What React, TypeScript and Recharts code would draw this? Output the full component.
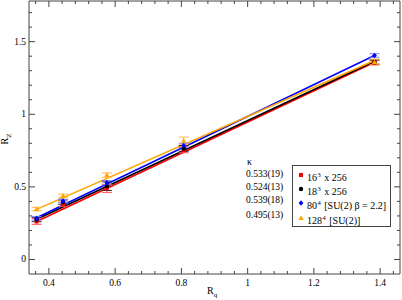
import React from 'react';
import { ComposedChart, Line, Scatter, XAxis, YAxis, ErrorBar, ReferenceArea } from 'recharts';

// R_q positions of the measured points
const rq = [0.363, 0.443, 0.575, 0.807, 1.383];

// R_Z values and errors per lattice
const rz16 = [0.262, 0.38, 0.49, 0.755, 1.355];
const err16 = [0.02, 0.015, 0.028, 0.02, 0.015];
const rz18 = [0.275, 0.395, 0.505, 0.765, 1.36];
const err18 = [0.015, 0.015, 0.03, 0.02, 0.015];
const rz80 = [0.283, 0.402, 0.528, 0.785, 1.405];
const err80 = [0.012, 0.012, 0.015, 0.015, 0.012];
const rz128 = [0.347, 0.438, 0.581, 0.818, 1.36];
const err128 = [0.012, 0.012, 0.015, 0.025, 0.02];

// fit lines, end points
const fitX = [0.363, 1.383];
const fit16 = [0.262, 1.358];
const fit18 = [0.277, 1.365];
const fit80 = [0.288, 1.405];
const fit128 = [0.345, 1.37];

const kappas = ['0.533(19)', '0.524(13)', '0.539(18)', '0.495(13)'];

const X_DOMAIN = [0.34, 1.46];
const Y_DOMAIN = [-0.1, 1.78];
const X_TICKS = [0.36, 0.4, 0.44, 0.48, 0.52, 0.56, 0.6, 0.64, 0.68, 0.72, 0.76, 0.8, 0.84, 0.88, 0.92, 0.96, 1, 1.04, 1.08, 1.12, 1.16, 1.2, 1.24, 1.28, 1.32, 1.36, 1.4, 1.44];
const X_MAJOR = [0.4, 0.6, 0.8, 1, 1.2, 1.4];
const Y_TICKS = [0, 0.1, 0.2, 0.3, 0.4, 0.5, 0.6, 0.7, 0.8, 0.9, 1, 1.1, 1.2, 1.3, 1.4, 1.5, 1.6, 1.7];
const Y_MAJOR = [0, 0.5, 1, 1.5];

const FONT = '"Liberation Serif", "DejaVu Serif", serif';
const AXIS = '#444';

const RED = '#ff0000';
const BLACK = '#000000';
const BLUE = '#0000ff';
const ORANGE = '#ffa500';

// plot box edges (follow from chart size, margins and axis sizes below)
const W = 402;
const H = 300;
const M = { top: 1, right: 2, left: 0, bottom: 0 };
const Y_AXIS_W = 29;
const X_AXIS_H = 26;
const PLOT_LEFT = M.left + Y_AXIS_W;
const PLOT_RIGHT = W - M.right;
const PLOT_TOP = M.top;
const PLOT_BOTTOM = H - M.bottom - X_AXIS_H;

const points = (ys: number[], errs: number[]) => rq.map((x, i) => ({ x, y: ys[i], err: errs[i] }));
const line = (ys: number[]) => fitX.map((x, i) => ({ x, y: ys[i] }));

const isMajor = (v: number, majors: number[]) => majors.some(m => Math.abs(m - v) < 1e-6);

// bottom + mirrored top ticks, pointing inward
const XTick = (props: any) => {
    const { x, payload } = props;
    const major = isMajor(payload.value, X_MAJOR);
    const len = major ? 6 : 3;
    return (
        <g>
            <line x1={x} x2={x} y1={PLOT_BOTTOM} y2={PLOT_BOTTOM - len} stroke={AXIS} />
            <line x1={x} x2={x} y1={PLOT_TOP} y2={PLOT_TOP + len} stroke={AXIS} />
            {major && (
                <text x={x} y={PLOT_BOTTOM + 12} textAnchor="middle" style={{ fontSize: 9.5, fontFamily: FONT, fill: '#000' }}>
                    {payload.value}
                </text>
            )}
        </g>
    );
};

// left + mirrored right ticks
const YTick = (props: any) => {
    const { y, payload } = props;
    const major = isMajor(payload.value, Y_MAJOR);
    const len = major ? 6 : 3;
    return (
        <g>
            <line x1={PLOT_LEFT} x2={PLOT_LEFT + len} y1={y} y2={y} stroke={AXIS} />
            <line x1={PLOT_RIGHT} x2={PLOT_RIGHT - len} y1={y} y2={y} stroke={AXIS} />
            {major && (
                <text x={PLOT_LEFT - 3} y={y + 3} textAnchor="end" style={{ fontSize: 9.5, fontFamily: FONT, fill: '#000' }}>
                    {payload.value}
                </text>
            )}
        </g>
    );
};

const Square = ({ cx, cy, fill }: any) => <rect x={cx - 2} y={cy - 2} width={4} height={4} fill={fill} />;
const Dot = ({ cx, cy, fill }: any) => <circle cx={cx} cy={cy} r={2.2} fill={fill} />;
const Diamond = ({ cx, cy, fill }: any) => (
    <polygon points={`${cx},${cy - 2.8} ${cx + 2.4},${cy} ${cx},${cy + 2.8} ${cx - 2.4},${cy}`} fill={fill} />
);
const Triangle = ({ cx, cy, fill }: any) => (
    <polygon points={`${cx},${cy - 2.8} ${cx + 2.6},${cy + 2} ${cx - 2.6},${cy + 2}`} fill={fill} />
);

const legendRows = [
    { base: '16', sup: '3', rest: ' x 256', color: RED, Mark: Square, top: 175 },
    { base: '18', sup: '3', rest: ' x 256', color: BLACK, Mark: Dot, top: 189 },
    { base: '80', sup: '4', rest: ' [SU(2) \u03b2 = 2.2]', color: BLUE, Mark: Diamond, top: 203.3 },
    { base: '128', sup: '4', rest: ' [SU(2)]', color: ORANGE, Mark: Triangle, top: 218 },
];
const kappaTops = [174.3, 186.5, 200.3, 214.6];

const text: React.CSSProperties = {
    position: 'absolute',
    fontFamily: FONT,
    fontSize: 9.5,
    lineHeight: '10px',
    color: '#000',
    whiteSpace: 'nowrap',
};

export default function App() {
    return (
        <div style={{ position: 'absolute', left: 0, top: 0, width: W, height: H, background: '#fff' }}>
            <ComposedChart width={W} height={H} margin={M}>
                <XAxis
                    type="number"
                    dataKey="x"
                    domain={X_DOMAIN}
                    allowDataOverflow
                    ticks={X_TICKS}
                    interval={0}
                    height={X_AXIS_H}
                    tickSize={0}
                    tickMargin={0}
                    tickLine={false}
                    axisLine={false}
                    tick={(p: any) => <XTick {...p} />}
                />
                <YAxis
                    type="number"
                    domain={Y_DOMAIN}
                    allowDataOverflow
                    ticks={Y_TICKS}
                    interval={0}
                    width={Y_AXIS_W}
                    tickSize={0}
                    tickMargin={0}
                    tickLine={false}
                    axisLine={false}
                    tick={(p: any) => <YTick {...p} />}
                />
                <ReferenceArea
                    x1={X_DOMAIN[0]}
                    x2={X_DOMAIN[1]}
                    y1={Y_DOMAIN[0]}
                    y2={Y_DOMAIN[1]}
                    ifOverflow="visible"
                    stroke={AXIS}
                    strokeWidth={1}
                    fill="none"
                    fillOpacity={0}
                />

                <Line data={line(fit16)} dataKey="y" stroke={RED} strokeWidth={1.6} dot={false} isAnimationActive={false} />
                <Line data={line(fit18)} dataKey="y" stroke={BLACK} strokeWidth={1.6} dot={false} isAnimationActive={false} />
                <Line data={line(fit80)} dataKey="y" stroke={BLUE} strokeWidth={1.6} dot={false} isAnimationActive={false} />
                <Line data={line(fit128)} dataKey="y" stroke={ORANGE} strokeWidth={1.6} dot={false} isAnimationActive={false} />

                <Scatter data={points(rz16, err16)} dataKey="y" fill={RED} shape={<Square />} isAnimationActive={false}>
                    <ErrorBar dataKey="err" direction="y" width={5} stroke="#ff5050" strokeWidth={1} isAnimationActive={false} />
                </Scatter>
                <Scatter data={points(rz18, err18)} dataKey="y" fill={BLACK} shape={<Dot />} isAnimationActive={false}>
                    <ErrorBar dataKey="err" direction="y" width={5} stroke="#333" strokeWidth={1} isAnimationActive={false} />
                </Scatter>
                <Scatter data={points(rz80, err80)} dataKey="y" fill={BLUE} shape={<Diamond />} isAnimationActive={false}>
                    <ErrorBar dataKey="err" direction="y" width={5} stroke="#8080ff" strokeWidth={1} isAnimationActive={false} />
                </Scatter>
                <Scatter data={points(rz128, err128)} dataKey="y" fill={ORANGE} shape={<Triangle />} isAnimationActive={false}>
                    <ErrorBar dataKey="err" direction="y" width={5} stroke="#ffb84d" strokeWidth={1} isAnimationActive={false} />
                </Scatter>
            </ComposedChart>

            {/* axis titles */}
            <div style={{ ...text, fontSize: 10, lineHeight: '10px', left: 207, top: 286 }}>
                R<sub style={{ fontSize: 7, verticalAlign: -3 }}>q</sub>
            </div>
            <div style={{ ...text, fontSize: 10, lineHeight: '10px', left: -3, top: 132, width: 20, textAlign: 'center', transform: 'rotate(-90deg)' }}>
                R<sub style={{ fontSize: 7, verticalAlign: -3 }}>Z</sub>
            </div>

            {/* kappa column */}
            <div style={{ ...text, fontSize: 10, lineHeight: '10px', left: 247, top: 156.5 }}>{'\u03ba'}</div>
            {kappas.map((k, i) => (
                <div key={k} style={{ ...text, left: 246, top: kappaTops[i] - 5 }}>{k}</div>
            ))}

            {/* legend */}
            <div style={{ position: 'absolute', left: 292, top: 165, width: 99, height: 62, border: `1px solid ${AXIS}`, background: '#fff', boxSizing: 'border-box' }} />
            {legendRows.map(r => (
                <React.Fragment key={r.base}>
                    <svg style={{ position: 'absolute', left: 296, top: r.top - 5 }} width={10} height={10}>
                        <r.Mark cx={5} cy={5} fill={r.color} />
                    </svg>
                    <div style={{ ...text, fontSize: 10, left: 307, top: r.top - 5 }}>
                        {r.base}
                        <sup style={{ fontSize: 6.5, verticalAlign: 4, marginLeft: 0.5, marginRight: 1 }}>{r.sup}</sup>
                        {r.rest}
                    </div>
                </React.Fragment>
            ))}
        </div>
    );
}
